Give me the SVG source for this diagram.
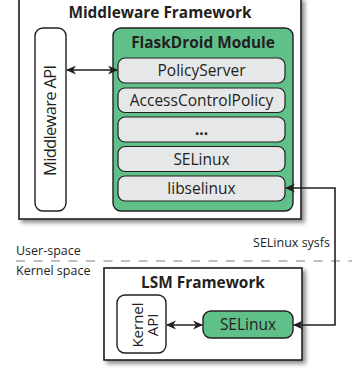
<svg xmlns="http://www.w3.org/2000/svg" width="358" height="368" viewBox="0 0 358 368">
<style>
.frame{fill:#fff;stroke:#231f20;stroke-width:1.6}
.api{fill:#fff;stroke:#231f20;stroke-width:1.4}
.green{fill:#5fc08a;stroke:#231f20;stroke-width:1.4}
.item{fill:#e6e7e8;stroke:#231f20;stroke-width:1.2}
.title{font-family:"Open Sans","Noto Sans",sans-serif;font-weight:bold;font-size:15.4px;fill:#231f20;text-anchor:middle}
.lbl{font-family:"Open Sans","Noto Sans",sans-serif;font-size:15.5px;fill:#231f20;text-anchor:middle}
.small{font-family:"Open Sans","Noto Sans",sans-serif;font-size:12.5px;fill:#231f20}
.conn{fill:none;stroke:#231f20;stroke-width:1.6}
</style>
<defs>
<filter id="sh" x="-10%" y="-10%" width="130%" height="130%">
<feDropShadow dx="3" dy="3" stdDeviation="2" flood-color="#000" flood-opacity="0.45"/>
</filter>
<marker id="ah" viewBox="0 0 10 10" refX="9" refY="5" markerWidth="10" markerHeight="10" markerUnits="userSpaceOnUse" orient="auto-start-reverse">
<path d="M0,0.5 L10,5 L0,9.5 L3,5 z" fill="#231f20"/>
</marker>
</defs>

<g id="middleware-framework">
<rect class="frame" x="19" y="-2" width="282" height="221" filter="url(#sh)"/>
<text class="title" x="160" y="18">Middleware Framework</text>
</g>

<g id="middleware-api">
<rect class="api" x="35" y="28" width="31" height="183" rx="8"/>
<text class="lbl" transform="translate(55.5,120.5) rotate(-90)" x="0" y="0" style="font-size:16.5px" textLength="111" lengthAdjust="spacing">Middleware API</text>
</g>

<g id="flaskdroid-module">
<rect class="green" x="113" y="28" width="180" height="183" rx="8"/>
<text class="title" x="203" y="48">FlaskDroid Module</text>
</g>

<g id="policyserver">
<rect class="item" x="118" y="58" width="167" height="25" rx="7"/>
<text class="lbl" x="201.5" y="76">PolicyServer</text>
</g>
<g id="accesscontrolpolicy">
<rect class="item" x="118" y="88" width="167" height="24.5" rx="7"/>
<text class="lbl" x="201.5" y="105.5">AccessControlPolicy</text>
</g>
<g id="more">
<rect class="item" x="118" y="117" width="167" height="25" rx="7"/>
<text class="title" x="201.5" y="135">...</text>
</g>
<g id="selinux-user">
<rect class="item" x="118" y="146.5" width="167" height="25" rx="7"/>
<text class="lbl" x="201.5" y="164.5">SELinux</text>
</g>
<g id="libselinux">
<rect class="item" x="118" y="176" width="167" height="25" rx="7"/>
<text class="lbl" x="201.5" y="194">libselinux</text>
</g>

<g id="space-labels">
<text class="small" x="16" y="255">User-space</text>
<line x1="16" y1="261" x2="352" y2="261" stroke="#808080" stroke-width="1.2" stroke-dasharray="9 8.5"/>
<text class="small" x="16" y="275">Kernel space</text>
<text class="small" x="330" y="247" text-anchor="end">SELinux sysfs</text>
</g>

<g id="lsm-framework">
<rect class="frame" x="104" y="268" width="198" height="92" filter="url(#sh)"/>
<text class="title" x="203" y="288">LSM Framework</text>
</g>

<g id="kernel-api">
<rect class="api" x="117" y="295" width="49" height="58" rx="8"/>
<text class="lbl" transform="translate(141.5,325) rotate(-90)" x="0" y="1.5" style="font-size:15px">Kernel</text>
<text class="lbl" transform="translate(141.5,325) rotate(-90)" x="0" y="16.5" style="font-size:15px">API</text>
</g>

<g id="selinux-kernel">
<rect class="green" x="203" y="311" width="90" height="27" rx="8"/>
<text class="lbl" x="248" y="330">SELinux</text>
</g>

<g id="connectors">
<line class="conn" x1="67" y1="70" x2="117" y2="70" marker-start="url(#ah)" marker-end="url(#ah)"/>
<path class="conn" d="M286,188 H335 V325 H294" marker-start="url(#ah)" marker-end="url(#ah)"/>
<line class="conn" x1="167" y1="325" x2="202" y2="325" marker-start="url(#ah)" marker-end="url(#ah)"/>
</g>
</svg>
